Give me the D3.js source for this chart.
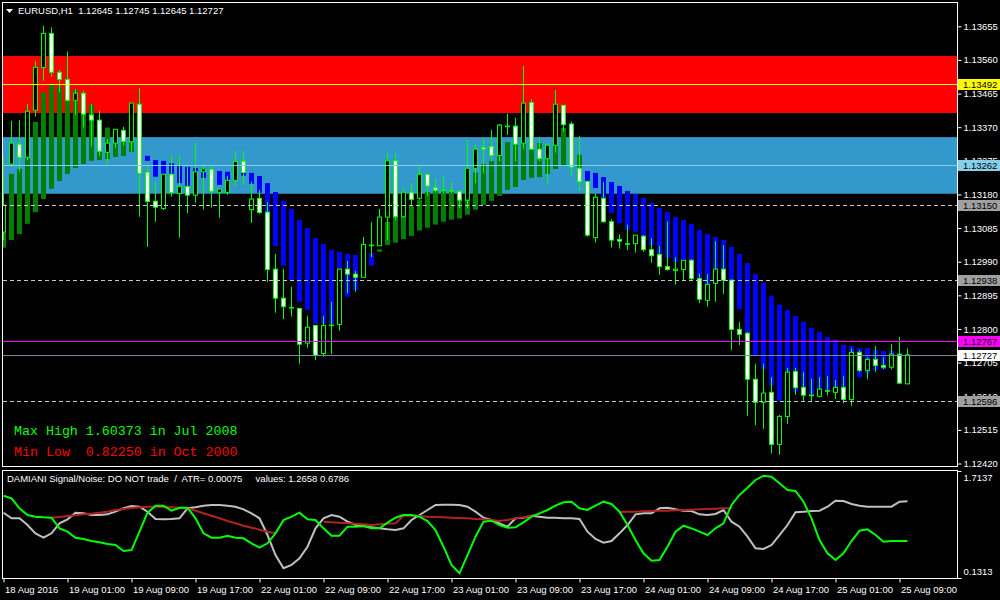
<!DOCTYPE html>
<html><head><meta charset="utf-8">
<script src="https://cdn.jsdelivr.net/npm/d3@7"></script>
<style>
html,body{margin:0;padding:0;background:#000;}
svg{display:block;}
text{font-family:"Liberation Sans",Arial,sans-serif;}
</style></head><body>
<svg id="c" width="1000" height="600"></svg>
<script>
// ---------------- DATA ----------------
const symbolTitle = "EURUSD,H1  1.12645 1.12745 1.12645 1.12727";
const subTitle = "DAMIANI Signal/Noise: DO NOT trade  /  ATR= 0.00075     values: 1.2658 0.6786";
const maxHighText = "Max High 1.60373 in Jul 2008";
const minLowText = "Min Low  0.82250 in Oct 2000";

const timeLabels = ["18 Aug 2016","19 Aug 01:00","19 Aug 09:00","19 Aug 17:00","22 Aug 01:00","22 Aug 09:00","22 Aug 17:00","23 Aug 01:00","23 Aug 09:00","23 Aug 17:00","24 Aug 01:00","24 Aug 09:00","24 Aug 17:00","25 Aug 01:00","25 Aug 09:00"];
const timeLabelBars = [0,8,16,24,32,40,48,56,64,72,80,88,96,104,112];
const priceTicks = [1.13655,1.13560,1.13465,1.13370,1.13275,1.13180,1.13085,1.12990,1.12895,1.12800,1.12705,1.12610,1.12515,1.12420];
const subTicks = [1.7137, 0.1313];

const open = [1.13074,1.13266,1.13322,1.13285,1.13418,1.13539,1.13635,1.13525,1.13505,1.13446,
1.13466,1.13404,1.13390,1.13299,1.13325,1.13361,1.13329,1.13435,1.13243,1.13161,
1.13140,1.13237,1.13183,1.13203,1.13178,1.13244,1.13251,1.13186,1.13186,1.13220,
1.13274,1.13137,1.13169,1.13130,1.12969,1.12887,1.12860,1.12858,1.12760,1.12810,
1.12731,1.12810,1.12813,1.12969,1.12955,1.12946,1.13036,1.13035,1.13116,1.13275,
1.13117,1.13186,1.13169,1.13237,1.13199,1.13191,1.13191,1.13189,1.13164,1.13254,
1.13313,1.13316,1.13290,1.13373,1.13373,1.13325,1.13440,1.13308,1.13281,1.13319,
1.13432,1.13379,1.13254,1.13217,1.13058,1.13169,1.13103,1.13053,1.13041,1.13041,
1.13062,1.13024,1.13010,1.12976,1.12965,1.12968,1.12994,1.12942,1.12881,1.12929,
1.12969,1.12938,1.12799,1.12788,1.12658,1.12593,1.12621,1.12474,1.12553,1.12680,
1.12635,1.12613,1.12610,1.12626,1.12621,1.12635,1.12601,1.12734,1.12683,1.12714,
1.12697,1.12692,1.12729,1.12645];
const high = [1.13286,1.13388,1.13390,1.13436,1.13556,1.13656,1.13652,1.13532,1.13584,1.13477,
1.13472,1.13435,1.13416,1.13336,1.13364,1.13371,1.13438,1.13481,1.13258,1.13217,
1.13237,1.13290,1.13292,1.13258,1.13325,1.13266,1.13258,1.13196,1.13233,1.13303,
1.13303,1.13216,1.13193,1.13159,1.13012,1.12969,1.12919,1.12858,1.12837,1.12810,
1.12837,1.12877,1.12969,1.12992,1.12964,1.13060,1.13102,1.13139,1.13297,1.13297,
1.13197,1.13212,1.13258,1.13237,1.13226,1.13232,1.13215,1.13189,1.13334,1.13320,
1.13340,1.13362,1.13379,1.13409,1.13396,1.13543,1.13449,1.13342,1.13325,1.13475,
1.13432,1.13386,1.13345,1.13217,1.13183,1.13215,1.13110,1.13068,1.13094,1.13065,
1.13065,1.13056,1.13035,1.13104,1.13003,1.12994,1.12997,1.12957,1.12955,1.13048,
1.13037,1.12939,1.12820,1.12791,1.12702,1.12702,1.12664,1.12557,1.12690,1.12690,
1.12678,1.12659,1.12664,1.12667,1.12656,1.12667,1.12745,1.12740,1.12720,1.12752,
1.12720,1.12758,1.12777,1.12745];
const low = [1.13051,1.13258,1.13244,1.13277,1.13400,1.13501,1.13513,1.13468,1.13442,1.13405,
1.13369,1.13315,1.13289,1.13265,1.13312,1.13318,1.13301,1.13117,1.13032,1.13103,
1.13136,1.13174,1.13058,1.13127,1.13157,1.13137,1.13143,1.13114,1.13179,1.13202,
1.13207,1.13100,1.13125,1.12933,1.12846,1.12828,1.12835,1.12702,1.12747,1.12712,
1.12722,1.12729,1.12795,1.12901,1.12905,1.12946,1.13003,1.13035,1.13051,1.13108,
1.13117,1.13147,1.13164,1.13176,1.13185,1.13183,1.13183,1.13141,1.13141,1.13212,
1.13240,1.13273,1.13273,1.13348,1.13273,1.13308,1.13307,1.13273,1.13210,1.13298,
1.13357,1.13230,1.13191,1.13061,1.13044,1.13100,1.13030,1.13027,1.13023,1.13016,
1.13018,1.12987,1.12953,1.12965,1.12925,1.12936,1.12938,1.12873,1.12863,1.12877,
1.12899,1.12741,1.12755,1.12555,1.12529,1.12518,1.12448,1.12445,1.12531,1.12614,
1.12597,1.12596,1.12607,1.12612,1.12602,1.12590,1.12583,1.12678,1.12658,1.12679,
1.12686,1.12686,1.12644,1.12645];
const close = [1.13150,1.13325,1.13285,1.13415,1.13539,1.13635,1.13525,1.13505,1.13446,1.13466,
1.13407,1.13390,1.13302,1.13325,1.13364,1.13330,1.13438,1.13240,1.13160,1.13144,
1.13237,1.13185,1.13202,1.13178,1.13244,1.13252,1.13189,1.13195,1.13220,1.13273,
1.13242,1.13167,1.13129,1.12968,1.12887,1.12863,1.12861,1.12757,1.12805,1.12726,
1.12810,1.12811,1.12969,1.12955,1.12946,1.13039,1.13037,1.13116,1.13275,1.13117,
1.13186,1.13166,1.13237,1.13204,1.13191,1.13192,1.13190,1.13164,1.13254,1.13308,
1.13308,1.13290,1.13376,1.13372,1.13322,1.13438,1.13308,1.13281,1.13319,1.13435,
1.13377,1.13257,1.13216,1.13065,1.13172,1.13103,1.13051,1.13048,1.13040,1.13065,
1.13024,1.13007,1.12976,1.12968,1.12969,1.12994,1.12942,1.12884,1.12926,1.12969,
1.12938,1.12799,1.12785,1.12658,1.12593,1.12619,1.12474,1.12553,1.12678,1.12634,
1.12613,1.12612,1.12630,1.12625,1.12635,1.12601,1.12734,1.12683,1.12714,1.12697,
1.12692,1.12729,1.12647,1.12727];

// trend histogram (1 = up / green, 0 = down / blue, null = none)
const trendUp = [1,1,1,1,1,1,1,1,1,1, 1,1,1,1,1,1,1,0,0,0, 0,0,0,0,0,0,0,0,0,0,
0,0,0,0,0,0,0,0,0,0, 0,0,0,0,0,0,0,1,1,1, 1,1,1,1,1,1,1,1,1,1,
1,1,1,1,1,1,1,1,1,1, 1,1,1,0,0,0,0,0,0,0, 0,0,0,0,0,0,0,0,0,0,
0,0,0,0,0,0,0,0,0,0, 0,0,0,0,0,0,0,0,0,0, 0,0,null,null];
const trendHi = [1.13150,1.13238,1.13252,1.13285,1.13385,1.13469,1.13489,1.13484,1.13447,1.13475,
1.13467,1.13433,1.13390,1.13369,1.13348,1.13329,1.13329,1.13285,1.13289,1.13277,
1.13275,1.13268,1.13261,1.13258,1.13255,1.13254,1.13250,1.13246,1.13244,1.13242,
1.13243,1.13241,1.13232,1.13212,1.13187,1.13162,1.13139,1.13108,1.13085,1.13057,
1.13040,1.13023,1.13018,1.13012,1.13009,1.13006,1.13014,1.13025,1.13102,1.13117,
1.13117,1.13147,1.13164,1.13187,1.13191,1.13191,1.13191,1.13185,1.13207,1.13242,
1.13266,1.13275,1.13289,1.13328,1.13339,1.13334,1.13320,1.13325,1.13306,1.13334,
1.13368,1.13330,1.13292,1.13246,1.13241,1.13229,1.13215,1.13204,1.13190,1.13181,
1.13170,1.13156,1.13142,1.13130,1.13116,1.13108,1.13097,1.13080,1.13068,1.13060,
1.13051,1.13032,1.13012,1.12986,1.12955,1.12930,1.12893,1.12868,1.12854,1.12837,
1.12820,1.12803,1.12792,1.12777,1.12769,1.12755,1.12752,1.12746,1.12746,1.12741,
1.12738,1.12738,null,null];
const trendLo = [1.13030,1.13051,1.13068,1.13097,1.13130,1.13167,1.13196,1.13218,1.13238,1.13255,
1.13266,1.13275,1.13277,1.13280,1.13286,1.13289,1.13300,1.13262,1.13275,1.13230,
1.13238,1.13238,1.13212,1.13204,1.13227,1.13227,1.13220,1.13207,1.13221,1.13222,
1.13233,1.13210,1.13185,1.13122,1.13034,1.12979,1.12938,1.12877,1.12854,1.12815,
1.12815,1.12815,1.12882,1.12891,1.12910,1.12953,1.12979,1.13018,1.13037,1.13044,
1.13054,1.13063,1.13078,1.13086,1.13095,1.13103,1.13109,1.13112,1.13123,1.13137,
1.13150,1.13162,1.13176,1.13193,1.13201,1.13221,1.13227,1.13229,1.13238,1.13252,
1.13263,1.13262,1.13252,1.13193,1.13198,1.13164,1.13127,1.13099,1.13080,1.13074,
1.13062,1.13036,1.13010,1.13001,1.12989,1.12981,1.12967,1.12938,1.12927,1.12950,
1.12953,1.12938,1.12856,1.12769,1.12725,1.12687,1.12640,1.12597,1.12620,1.12623,
1.12628,1.12613,1.12620,1.12623,1.12628,1.12635,1.12650,1.12664,1.12675,1.12684,
1.12686,1.12700,null,null];

// zones and levels (prices)
const resistanceZone = [1.13410, 1.13571];
const supportZone = [1.13182, 1.13342];
const levelPrices = [1.13492, 1.13262, 1.13150, 1.12938, 1.12767, 1.12727, 1.12596];
const levelKinds  = ["yellow","skyblue","dash","dash","magenta","bid","dash"];

// Damiani volatmeter (sub window)
const noiseGray = [1.097,1.014,1.014,0.915,0.792,0.727,0.792,0.940,0.999,1.097,
1.088,1.063,1.063,1.073,1.112,1.162,1.196,1.186,1.112,1.004,
0.999,1.004,1.014,1.162,1.177,1.201,1.211,1.211,1.201,1.186,
1.147,1.088,1.014,0.767,0.471,0.275,0.324,0.423,0.594,0.866,
1.014,1.063,1.038,0.964,0.915,0.900,0.881,0.866,0.851,0.841,
0.866,0.989,1.063,1.137,1.211,1.215,1.215,1.211,1.186,1.112,
1.023,0.989,0.940,0.890,1.014,1.023,1.053,1.038,1.023,1.023,
1.014,1.014,1.004,0.816,0.708,0.653,0.678,0.792,0.915,1.073,
1.088,1.088,1.162,1.171,1.147,1.127,1.122,1.073,1.063,1.078,
1.137,0.964,0.890,0.742,0.571,0.560,0.619,0.767,0.915,1.103,
1.112,1.122,1.127,1.186,1.275,1.270,1.226,1.201,1.186,1.186,
1.186,1.186,1.260,1.2658];
const signalGreen = [1.348,1.310,1.162,1.063,1.038,1.029,1.023,0.866,0.816,0.727,
0.708,0.678,0.659,0.634,0.619,0.531,0.545,0.816,1.097,1.201,
1.201,1.127,1.171,1.171,1.014,0.792,0.727,0.727,0.757,0.727,
0.718,0.644,0.579,0.644,0.792,0.989,1.038,1.097,0.999,0.989,
0.866,0.757,0.757,0.890,0.890,0.900,0.866,0.866,0.949,1.023,
1.063,1.063,1.038,0.974,0.841,0.594,0.324,0.201,0.471,0.742,
0.964,0.979,0.915,0.875,0.881,0.955,1.038,1.088,1.137,1.201,
1.251,1.260,1.162,1.137,1.201,1.260,1.226,1.112,0.915,0.693,
0.497,0.387,0.398,0.594,0.816,0.905,0.866,0.816,0.767,0.866,
0.940,1.211,1.359,1.467,1.581,1.644,1.629,1.532,1.433,1.418,
1.260,1.014,0.693,0.497,0.398,0.497,0.678,0.831,0.851,0.767,
0.668,0.678,0.678,0.6786];
const thresholdRed = [null,null,null,null,null,null,1.023,1.033,1.048,1.059,
1.073,1.082,1.097,1.112,1.137,1.152,1.167,1.177,1.186,1.186,
1.181,1.177,1.171,1.162,1.127,1.088,1.053,1.014,0.974,0.940,
0.905,0.875,0.846,0.816,0.792,null,null,null,null,null,
0.964,0.955,0.949,0.940,0.934,0.925,0.915,0.925,0.934,0.940,
1.053,1.053,1.048,1.038,1.033,1.029,1.023,1.019,1.014,1.004,
0.999,0.989,0.974,0.989,1.014,1.029,1.053,1.073,null,null,
null,null,null,null,null,null,null,1.107,1.112,1.112,
1.118,1.122,1.127,1.127,1.133,1.137,1.141,1.147,1.152,1.156,
1.162,1.162,null,null,null,null,null,null,null,null,
null,null,null,null,null,null,null,null,null,null,
null,null,null,null];

// ---------------- DRAW ----------------
const svg = d3.select('#c');
const LIME = '#00ff00';
svg.append('rect').attr('width',1000).attr('height',600).attr('fill','#000');

const x = d3.scaleLinear().domain([0, 113]).range([3.5, 907.5]);
const y = d3.scaleLinear().domain([1.12420, 1.13655]).range([463.5, 26.3]);
const ys = d3.scaleLinear().domain([0.1313, 1.7137]).range([578, 471]);

const defs = svg.append('defs');
defs.append('clipPath').attr('id','mainClip').append('rect').attr('x',3).attr('y',3).attr('width',954).attr('height',463);
defs.append('clipPath').attr('id','subClip').append('rect').attr('x',3).attr('y',471).attr('width',954).attr('height',107);

const main = svg.append('g').attr('clip-path','url(#mainClip)');

// zones
[[resistanceZone,'#ff0000'],[supportZone,'#3399cc']].forEach(([z,c])=>{
  main.append('rect').attr('x',3).attr('width',954)
    .attr('y', y(z[1])).attr('height', y(z[0]) - y(z[1])).attr('fill', c);
});

// trend histogram
const idx = d3.range(open.length);
main.append('g').selectAll('rect').data(idx.filter(i => trendUp[i] !== null))
  .join('rect')
  .attr('x', i => x(i) - 2.5).attr('width', 5)
  .attr('y', i => y(trendHi[i]))
  .attr('height', i => Math.max(2, y(trendLo[i]) - y(trendHi[i])))
  .attr('fill', i => trendUp[i] ? '#008000' : '#0000ff');

// candles
const cg = main.append('g');
cg.selectAll('line').data(idx).join('line')
  .attr('x1', i => x(i)).attr('x2', i => x(i))
  .attr('y1', i => y(high[i])).attr('y2', i => y(low[i]))
  .attr('stroke', LIME).attr('stroke-width', 1);
cg.selectAll('rect').data(idx).join('rect')
  .attr('x', i => x(i) - 2).attr('width', 4)
  .attr('y', i => Math.min(y(open[i]), y(close[i])))
  .attr('height', i => Math.max(0.6, Math.abs(y(open[i]) - y(close[i]))))
  .attr('fill', i => close[i] >= open[i] ? '#000' : '#fff')
  .attr('stroke', LIME).attr('stroke-width', 1);

// horizontal levels
const levelStyle = {
  yellow: {stroke:'#ffff00', dash:null, bg:'#ffff00'},
  skyblue:{stroke:'#87ceeb', dash:null, bg:'#87ceeb'},
  dash:   {stroke:'#c8c8c8', dash:'4,3', bg:'#a0a0a0'},
  magenta:{stroke:'#ff00ff', dash:null, bg:'#ff00ff'},
  bid:    {stroke:'#778899', dash:null, bg:'#ffffff'}
};
levelPrices.forEach((p,k)=>{
  const st = levelStyle[levelKinds[k]];
  const yy = Math.round(y(p)) + 0.5;
  main.append('line').attr('x1',3).attr('x2',957).attr('y1',yy).attr('y2',yy)
    .attr('stroke', st.stroke).attr('stroke-width',1)
    .attr('shape-rendering','crispEdges')
    .attr('stroke-dasharray', st.dash);
});

// Max/Min text
svg.append('text').attr('x',14).attr('y',435).attr('fill',LIME)
  .style('font-family','"Liberation Mono", monospace').style('font-size','13.3px')
  .attr('xml:space','preserve').text(maxHighText);
svg.append('text').attr('x',14).attr('y',456).attr('fill','#ff0000')
  .style('font-family','"Liberation Mono", monospace').style('font-size','13.3px')
  .attr('xml:space','preserve').text(minLowText);

// header
svg.append('path').attr('d','M6,9 L13,9 L9.5,13 Z').attr('fill','#fff');
svg.append('text').attr('x',18).attr('y',14).attr('fill','#fff').style('font-size','9.5px')
  .attr('xml:space','preserve').text(symbolTitle);

// frames
svg.append('rect').attr('x',2.5).attr('y',2.5).attr('width',955).attr('height',464)
  .attr('fill','none').attr('stroke','#fff');
svg.append('rect').attr('x',2.5).attr('y',470.5).attr('width',955).attr('height',108)
  .attr('fill','none').attr('stroke','#fff');

// price axis
const pa = svg.append('g').attr('transform','translate(957.5,0)')
  .call(d3.axisRight(y).tickValues(priceTicks).tickFormat(d3.format('.5f')).tickSize(4).tickSizeOuter(0));
pa.select('.domain').remove();
pa.selectAll('line').attr('stroke','#fff');
pa.selectAll('text').attr('fill','#fff').attr('x',6).style('font-size','9.5px').style('font-family','"Liberation Sans",Arial,sans-serif');

// level labels on axis
levelPrices.forEach((p,k)=>{
  const st = levelStyle[levelKinds[k]];
  const yy = Math.round(y(p));
  svg.append('rect').attr('x',958).attr('y',yy-5).attr('width',42).attr('height',11).attr('fill',st.bg);
  svg.append('text').attr('x',963).attr('y',yy+4).attr('fill','#000').style('font-size','9.5px')
    .text(d3.format('.5f')(p));
});

// sub window
const sub = svg.append('g').attr('clip-path','url(#subClip)');
const ln = d3.line().defined(d => d[1] !== null).x(d => x(d[0])).y(d => ys(d[1]));
sub.append('path').attr('d', ln(noiseGray.map((v,i)=>[i,v]))).attr('fill','none').attr('stroke','#c0c0c0').attr('stroke-width',2);
sub.append('path').attr('d', ln(thresholdRed.map((v,i)=>[i,v]))).attr('fill','none').attr('stroke','#b22222').attr('stroke-width',2);
sub.append('path').attr('d', ln(signalGreen.map((v,i)=>[i,v]))).attr('fill','none').attr('stroke','#00ff00').attr('stroke-width',2);

svg.append('text').attr('x',7).attr('y',482).attr('fill','#fff').style('font-size','9.5px')
  .attr('xml:space','preserve').text(subTitle);

const sa = svg.append('g').attr('transform','translate(957.5,0)')
  .call(d3.axisRight(ys).tickValues(subTicks).tickFormat(d3.format('.4f')).tickSize(4).tickSizeOuter(0));
sa.select('.domain').remove();
sa.selectAll('line').attr('stroke','#fff');
sa.selectAll('text').attr('fill','#fff').attr('x',6).style('font-size','9.5px')
  .attr('dy', d => d > 1 ? '0.95em' : '-0.35em');

// time axis
const ta = svg.append('g').attr('transform','translate(0,578.5)')
  .call(d3.axisBottom(x).tickValues(timeLabelBars).tickFormat((d,i)=>timeLabels[i]).tickSize(4).tickSizeOuter(0));
ta.select('.domain').remove();
ta.selectAll('line').attr('stroke','#fff');
ta.selectAll('text').attr('fill','#fff').attr('text-anchor','start').attr('x',1).attr('y',14).attr('dy',0)
  .style('font-size','9.5px');
</script>
</body></html>
